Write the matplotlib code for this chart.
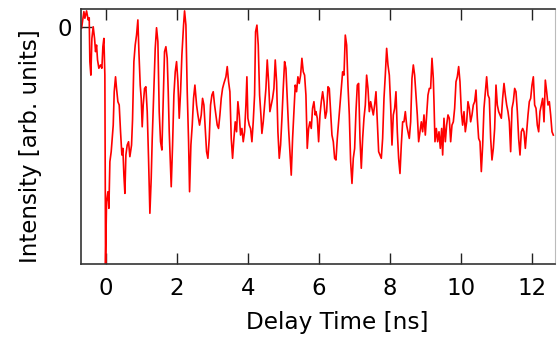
import matplotlib
matplotlib.use("Agg")
import matplotlib.pyplot as plt

# Delay time [ns]
time_ns = [
    -0.700, -0.676, -0.610, -0.582, -0.535, -0.489, -0.460, -0.442, -0.414, -0.385, -0.348,
    -0.310, -0.282, -0.254, -0.226, -0.189, -0.142, -0.104, -0.076, -0.048, -0.020, -0.001,
    0.027, 0.065, 0.093, 0.121, 0.158, 0.186, 0.215, 0.243, 0.280, 0.308, 0.346, 0.383,
    0.421, 0.458, 0.486, 0.515, 0.543, 0.571, 0.608, 0.646, 0.683, 0.730, 0.758, 0.796,
    0.833, 0.871, 0.908, 0.937, 0.974, 1.002, 1.030, 1.058, 1.096, 1.133, 1.171, 1.208,
    1.246, 1.283, 1.312, 1.358, 1.396, 1.433, 1.471, 1.508, 1.546, 1.583, 1.621, 1.658,
    1.696, 1.733, 1.762, 1.790, 1.818, 1.846, 1.884, 1.921, 1.959, 1.996, 2.034, 2.071,
    2.109, 2.146, 2.193, 2.221, 2.259, 2.296, 2.334, 2.362, 2.399, 2.437, 2.474, 2.512,
    2.559,
    2.596, 2.643, 2.690, 2.727, 2.765, 2.802, 2.840, 2.877, 2.915, 2.952, 2.990, 3.027,
    3.065, 3.102, 3.140, 3.177, 3.215, 3.252, 3.290, 3.327, 3.384, 3.421, 3.459, 3.496,
    3.534, 3.571, 3.609, 3.646, 3.684, 3.721, 3.759, 3.796, 3.834, 3.871, 3.909, 3.946,
    3.974, 4.002, 4.040, 4.077, 4.115, 4.152, 4.190, 4.218, 4.256, 4.293, 4.331, 4.368,
    4.396, 4.434, 4.471, 4.509, 4.546, 4.584, 4.621, 4.659, 4.696, 4.734, 4.771, 4.809,
    4.846, 4.884, 4.921, 4.959, 4.996, 5.034, 5.071, 5.109, 5.146, 5.184, 5.221, 5.259,
    5.296, 5.334, 5.371, 5.409, 5.446, 5.484, 5.521, 5.559, 5.596, 5.634, 5.671, 5.709,
    5.746, 5.784, 5.821, 5.859, 5.896,
    5.916, 5.954, 5.991, 6.029, 6.066, 6.104, 6.141, 6.179, 6.216, 6.254, 6.291, 6.329,
    6.366, 6.404, 6.441, 6.479, 6.516, 6.554, 6.591, 6.629, 6.666, 6.704, 6.741, 6.779,
    6.816, 6.854, 6.891, 6.929, 6.966, 7.004, 7.041, 7.079, 7.116, 7.154, 7.191, 7.229,
    7.266, 7.304, 7.341, 7.379, 7.416, 7.454, 7.491, 7.529, 7.566, 7.604, 7.641, 7.679,
    7.716, 7.754, 7.791, 7.829, 7.866, 7.904, 7.941, 7.979, 8.016, 8.054, 8.091, 8.129,
    8.166, 8.204, 8.241, 8.279, 8.316, 8.354, 8.391, 8.429, 8.466, 8.504, 8.541, 8.579,
    8.616, 8.654, 8.691, 8.729, 8.766, 8.804, 8.841, 8.879, 8.916, 8.954, 8.991, 9.029,
    9.066, 9.104, 9.141, 9.179, 9.216,
    9.235, 9.263, 9.301, 9.338, 9.376, 9.413, 9.451, 9.479, 9.516, 9.554, 9.591, 9.629,
    9.666, 9.704, 9.741, 9.779, 9.816, 9.854, 9.891, 9.929, 9.966, 10.004, 10.041, 10.079,
    10.116, 10.154, 10.191, 10.229, 10.266, 10.304, 10.341, 10.379, 10.416, 10.454, 10.491,
    10.529, 10.566, 10.604, 10.641, 10.679, 10.716, 10.754, 10.791, 10.829, 10.866, 10.904,
    10.941, 10.979, 11.016, 11.054, 11.091, 11.129, 11.166, 11.204, 11.241, 11.279, 11.316,
    11.354, 11.391, 11.429, 11.466, 11.504, 11.541, 11.579, 11.616, 11.654, 11.691, 11.729,
    11.766, 11.804, 11.841, 11.879, 11.916, 11.954, 11.991, 12.029, 12.066, 12.104, 12.141,
    12.179, 12.216, 12.254, 12.291, 12.329, 12.366, 12.404, 12.441, 12.479, 12.516, 12.554,
    12.591,
]

# Intensity [arb. units]
intensity = [
    -0.006, -0.006, 0.065, 0.037, 0.068, 0.030, 0.039, -0.146, -0.203, -0.048, 0.001,
    -0.048, -0.104, -0.076, -0.139, -0.174, -0.160, -0.174, -0.083, -0.048, -0.203, -1.000,
    -0.737, -0.695, -0.765, -0.568, -0.526, -0.470, -0.414, -0.273, -0.210, -0.259, -0.315, -0.329,
    -0.442, -0.540, -0.512, -0.625, -0.702, -0.540, -0.498, -0.484, -0.547, -0.498, -0.392, -0.146,
    -0.076, -0.034, 0.030, -0.104, -0.245, -0.301, -0.421, -0.329, -0.259, -0.252, -0.357, -0.554,
    -0.786, -0.639, -0.470, -0.259, -0.090, -0.003, -0.062, -0.357, -0.484, -0.519, -0.301, -0.104,
    -0.083, -0.132, -0.273, -0.442, -0.554, -0.674, -0.498, -0.287, -0.189, -0.146, -0.231, -0.385,
    -0.273, -0.118, 0.008, 0.068, 0.008, -0.273, -0.484, -0.695, -0.498, -0.414, -0.301, -0.245,
    -0.329,
    -0.371, -0.414, -0.371, -0.301, -0.329, -0.428, -0.526, -0.554, -0.470, -0.329, -0.287, -0.273,
    -0.329, -0.371, -0.414, -0.428, -0.371, -0.301, -0.259, -0.238, -0.210, -0.167, -0.231, -0.273,
    -0.470, -0.554, -0.470, -0.400, -0.442, -0.315, -0.371, -0.456, -0.428, -0.484, -0.442, -0.329,
    -0.210, -0.385, -0.414, -0.428, -0.484, -0.400, -0.287, -0.020, 0.008, -0.076, -0.287, -0.371,
    -0.449, -0.400, -0.329, -0.259, -0.139, -0.231, -0.357, -0.329, -0.301, -0.259, -0.139, -0.231,
    -0.442, -0.554, -0.498, -0.385, -0.259, -0.146, -0.174, -0.301, -0.428, -0.526, -0.625, -0.470,
    -0.357, -0.245, -0.273, -0.210, -0.238, -0.203, -0.132, -0.189, -0.203, -0.287, -0.512, -0.428,
    -0.400, -0.428, -0.343, -0.315, -0.371,
    -0.357, -0.385, -0.484, -0.371, -0.315, -0.273, -0.315, -0.385, -0.357, -0.252, -0.259, -0.357,
    -0.456, -0.484, -0.554, -0.561, -0.470, -0.400, -0.329, -0.259, -0.189, -0.203, -0.034, -0.076,
    -0.245, -0.371, -0.568, -0.660, -0.554, -0.512, -0.357, -0.245, -0.238, -0.470, -0.596, -0.470,
    -0.385, -0.329, -0.203, -0.259, -0.357, -0.315, -0.343, -0.371, -0.329, -0.273, -0.400, -0.526,
    -0.540, -0.554, -0.470, -0.301, -0.203, -0.090, -0.160, -0.203, -0.329, -0.498, -0.371, -0.343,
    -0.273, -0.442, -0.554, -0.618, -0.498, -0.400, -0.400, -0.357, -0.414, -0.442, -0.470, -0.400,
    -0.217, -0.160, -0.203, -0.287, -0.371, -0.484, -0.442, -0.400, -0.442, -0.371, -0.456, -0.371,
    -0.287, -0.259, -0.259, -0.132, -0.217,
    -0.315, -0.484, -0.428, -0.484, -0.442, -0.512, -0.428, -0.540, -0.385, -0.484, -0.414, -0.371,
    -0.385, -0.484, -0.414, -0.400, -0.343, -0.231, -0.210, -0.167, -0.231, -0.357, -0.414, -0.357,
    -0.442, -0.400, -0.315, -0.343, -0.400, -0.371, -0.329, -0.315, -0.266, -0.385, -0.470,
    -0.484, -0.610, -0.498, -0.343, -0.273, -0.210, -0.287, -0.301, -0.470, -0.561, -0.512,
    -0.428, -0.245, -0.329, -0.357, -0.371, -0.385, -0.301, -0.238, -0.287, -0.329, -0.357,
    -0.400, -0.526, -0.343, -0.315, -0.259, -0.273, -0.357, -0.470, -0.540, -0.442, -0.428,
    -0.442, -0.512, -0.442, -0.371, -0.315, -0.301, -0.245, -0.210, -0.329, -0.343, -0.414,
    -0.442, -0.357, -0.329, -0.301, -0.400, -0.224, -0.273, -0.329, -0.315, -0.371, -0.442,
    -0.456,
]

x_ticks = [0, 2, 4, 6, 8, 10, 12]
y_ticks = [0]
y_tick_labels = ["0"]

plt.rcParams['font.family'] = ['DejaVu Sans']

fig = plt.figure(figsize=(5.58, 3.40), dpi=100)
ax = fig.add_axes([0.1446, 0.2235, 0.8495, 0.75])

ax.plot(time_ns, intensity, color='#ff0000', linewidth=1.2)

ax.set_xlim(-0.70, 12.63)
ax.set_ylim(-1.0, 0.076)
ax.set_xticks(x_ticks)
ax.set_xticklabels([str(t) for t in x_ticks])
ax.set_yticks(y_ticks)
ax.set_yticklabels(y_tick_labels)

ax.tick_params(axis='x', direction='in', length=8, width=1.0, top=True, bottom=True,
               labelsize=16.5, pad=9.5, colors='#222222', labelcolor='black')
ax.tick_params(axis='y', direction='in', length=8, width=1.0, left=True,
               labelsize=16.5, pad=6, colors='#222222', labelcolor='black')

for side in ['left', 'bottom', 'top']:
    ax.spines[side].set_color('#333333')
    ax.spines[side].set_linewidth(1.2)
ax.spines['right'].set_color('#bbbbbb')
ax.spines['right'].set_linewidth(0.8)

ax.set_xlabel('Delay Time [ns]', fontsize=16.7)
ax.set_ylabel('Intensity [arb. units]', fontsize=16.5)
ax.xaxis.set_label_coords(0.541, -0.185)
ax.yaxis.set_label_coords(-0.081, 0.461)

fig.savefig('out.png', dpi=100)
